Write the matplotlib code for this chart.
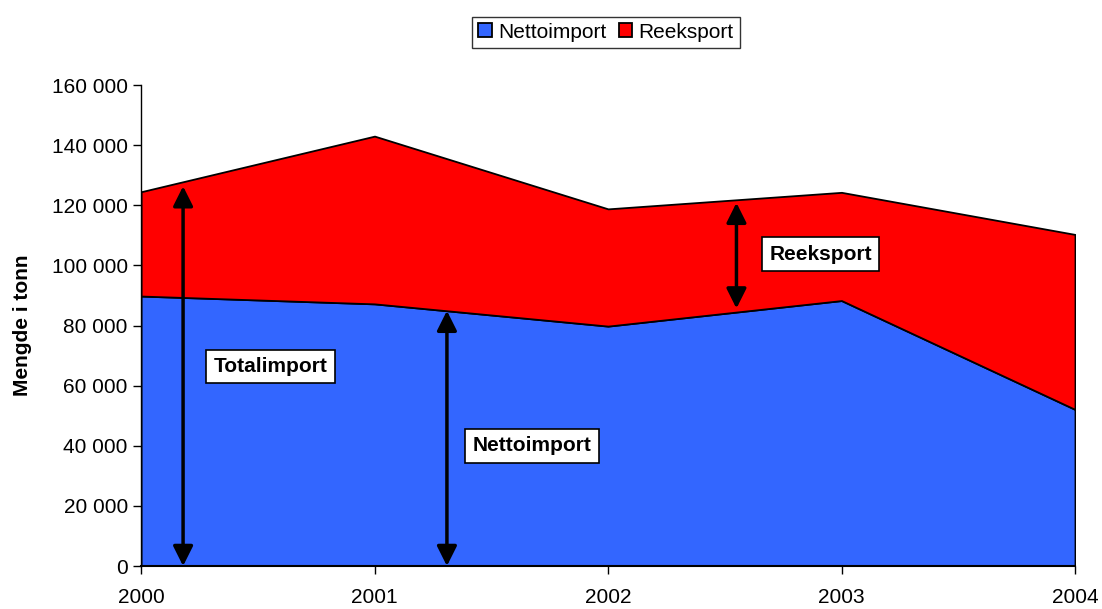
import numpy as np
import matplotlib.pyplot as plt
from matplotlib.ticker import FuncFormatter

plt.rcParams['font.family'] = ['Liberation Sans', 'DejaVu Sans']

years = [2000, 2001, 2002, 2003, 2004]
nettoimport = [89800, 87200, 79800, 88300, 52100]
reeksport = [34700, 55800, 39000, 36000, 58200]

yrs = np.array(years, dtype=float)
netto = np.array(nettoimport, dtype=float)
total = netto + np.array(reeksport, dtype=float)

fig = plt.figure(figsize=(11.02, 6.09), dpi=100)
ax = fig.add_axes([0.128, 0.0706, 0.8475, 0.7898])

ax.fill_between(yrs, 0, netto, facecolor='#3366FF', edgecolor='black', lw=1.3, label='Nettoimport')
ax.fill_between(yrs, netto, total, facecolor='#FF0000', edgecolor='black', lw=1.3, label='Reeksport')

ax.set_xlim(2000, 2004)
ax.set_ylim(0, 160000)
ax.set_xticks(years)
ax.set_yticks(np.arange(0, 160001, 20000))
ax.yaxis.set_major_formatter(FuncFormatter(lambda v, p: '{:,.0f}'.format(v).replace(',', ' ')))
ax.tick_params(axis='both', labelsize=15, length=6, width=1, direction='out', colors='black')
ax.tick_params(axis='x', pad=10)
for s in ['top', 'right']:
    ax.spines[s].set_visible(False)
ax.spines['left'].set_linewidth(1)
ax.spines['bottom'].set_linewidth(1.5)
ax.set_ylabel('Mengde i tonn', fontsize=15, fontweight='bold', labelpad=14)

# piler
def arrow(x, lo, hi):
    ax.annotate('', xy=(x, hi), xytext=(x, lo),
                arrowprops=dict(arrowstyle='<|-|>,head_length=0.6,head_width=0.3', lw=2.5,
                                color='black', mutation_scale=20, shrinkA=0, shrinkB=0))

x_tot, x_net, x_ree = 2000.18, 2001.31, 2002.55
arrow(x_tot, 0, np.interp(x_tot, yrs, total) - 1500)
arrow(x_net, 0, np.interp(x_net, yrs, netto))
arrow(x_ree, np.interp(x_ree, yrs, netto) + 1200, np.interp(x_ree, yrs, total) - 1000)

box = dict(boxstyle='square,pad=0.35', facecolor='white', edgecolor='black', lw=1.2)
ax.text(2000.555, 66300, 'Totalimport', fontsize=15, fontweight='bold', ha='center', va='center', bbox=box)
ax.text(2001.675, 40000, 'Nettoimport', fontsize=15, fontweight='bold', ha='center', va='center', bbox=box)
ax.text(2002.91, 103700, 'Reeksport', fontsize=15, fontweight='bold', ha='center', va='center', bbox=box)

leg = fig.legend(loc='upper center', bbox_to_anchor=(0.55, 0.99), ncol=2, fontsize=15,
                 frameon=True, fancybox=False, edgecolor='black', handlelength=0.65,
                 handleheight=0.65, handletextpad=0.3, columnspacing=0.6, borderpad=0.3)
leg.get_frame().set_linewidth(1)

fig.savefig('out.png', dpi=100)
